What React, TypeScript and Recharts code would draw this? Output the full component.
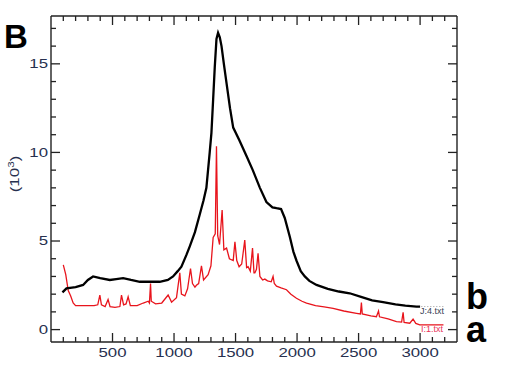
import React from 'react'
import { LineChart, Line, XAxis, YAxis, ReferenceLine } from 'recharts'

// spectrum b (black): [shift, intensity (10^3)]
const spectrumB: [number, number][] = [
    [93, 2.1], [126, 2.33], [200, 2.4], [261, 2.52], [300, 2.8], [342, 3.0], [400, 2.9],
    [478, 2.8], [530, 2.85], [586, 2.9], [650, 2.8], [722, 2.7], [800, 2.7], [884, 2.7],
    [950, 2.8], [992, 3.0], [1030, 3.3], [1060, 3.55], [1100, 4.2], [1128, 4.7], [1170, 5.5],
    [1209, 6.5], [1240, 7.3], [1263, 8.0], [1290, 10.0], [1304, 11.1], [1318, 13.0],
    [1331, 14.8], [1345, 16.4], [1358, 16.75], [1372, 16.5], [1386, 16.0], [1405, 15.0],
    [1427, 13.9], [1455, 12.5], [1481, 11.4], [1530, 10.7], [1589, 9.8], [1640, 9.0],
    [1698, 8.0], [1751, 7.2], [1800, 6.9], [1833, 6.85], [1870, 6.8], [1900, 6.3],
    [1941, 5.24], [1970, 4.4], [1995, 3.9], [2030, 3.3], [2063, 3.0], [2100, 2.75],
    [2158, 2.52], [2250, 2.3], [2340, 2.15], [2428, 2.05], [2520, 1.85], [2610, 1.65],
    [2699, 1.55], [2800, 1.42], [2880, 1.35], [2970, 1.3], [3000, 1.3],
]

// spectrum a (red)
const spectrumA: [number, number][] = [
    [100, 3.65], [120, 3.1], [140, 2.2], [160, 1.9], [180, 1.5], [200, 1.35], [250, 1.35],
    [300, 1.35], [350, 1.35], [380, 1.4], [397, 1.95], [410, 1.4], [440, 1.3], [464, 1.7],
    [480, 1.3], [520, 1.25], [560, 1.3], [573, 1.95], [590, 1.4], [610, 1.45], [627, 1.85],
    [645, 1.35], [700, 1.35], [750, 1.5], [790, 1.6], [800, 1.5], [809, 2.6], [815, 1.6],
    [850, 1.45], [900, 1.5], [952, 1.95], [980, 1.55], [1020, 1.8], [1047, 3.2], [1060, 2.0],
    [1088, 1.9], [1110, 2.3], [1134, 3.45], [1150, 2.6], [1170, 2.4], [1182, 2.5], [1200, 2.6],
    [1223, 3.6], [1240, 2.8], [1277, 3.1], [1300, 3.6], [1318, 5.2], [1335, 5.4],
    [1345, 10.35], [1355, 5.3], [1370, 4.8], [1391, 6.75], [1405, 4.5], [1427, 4.6],
    [1450, 4.0], [1481, 3.9], [1495, 4.96], [1510, 3.9], [1529, 3.55], [1550, 3.7],
    [1575, 5.05], [1590, 3.5], [1602, 3.55], [1620, 3.3], [1638, 4.6], [1650, 3.2],
    [1657, 3.2], [1670, 3.4], [1683, 4.3], [1698, 3.0], [1720, 2.8], [1738, 2.85],
    [1760, 2.75], [1790, 2.7], [1805, 3.0], [1815, 2.6], [1833, 2.45], [1870, 2.35],
    [1914, 2.25], [1950, 2.0], [1995, 1.77], [2040, 1.6], [2077, 1.5], [2150, 1.35],
    [2220, 1.28], [2293, 1.2], [2380, 1.05], [2483, 0.92], [2515, 0.88], [2523, 1.52],
    [2530, 0.88], [2600, 0.78], [2645, 0.73], [2662, 1.05], [2670, 0.72], [2740, 0.6],
    [2808, 0.45], [2850, 0.42], [2862, 0.98], [2870, 0.4], [2916, 0.36], [2943, 0.59],
    [2965, 0.35], [2997, 0.27], [3100, 0.27], [3190, 0.27],
]

// faint dotted stub next to the J:4 label
const legendStub: [number, number][] = [[3010, 1.3], [3190, 1.3]]

const X_DOMAIN = [0, 3300]
const Y_DOMAIN = [-0.7, 17.7]
const xTicks = Array.from({ length: 32 }, (_, i) => (i + 1) * 100)
const yTicks = Array.from({ length: 18 }, (_, i) => i)

const toRows = (pts: [number, number][]) => pts.map(([x, y]) => ({ x, y }))

const W = 508
const H = 376
const M = { top: 16, right: 51, bottom: 0, left: 0 }
const Y_AXIS_W = 51
const X_AXIS_H = 34
const PLOT_W = W - M.left - M.right - Y_AXIS_W
const PLOT_H = H - M.top - M.bottom - X_AXIS_H

const FONT = "Arial, 'Liberation Sans', sans-serif"
const LABEL_COLOR = '#27304f'
const AXIS = '#222'

// inward tick lengths (px) turned into data units so they can go through the scales
const pxX = (X_DOMAIN[1] - X_DOMAIN[0]) / PLOT_W
const pxY = (Y_DOMAIN[1] - Y_DOMAIN[0]) / PLOT_H
const tickLenX = (v: number) => (v % 5 === 0 ? 9 : 5) * pxX
const tickLenY = (v: number) => (v % 500 === 0 ? 9 : 5) * pxY

const LeftTick = (props: any) => {
    const { x, y, payload } = props
    if (payload.value % 5 !== 0) return <g />
    return (
        <text transform={`translate(${x},${y}) scale(1.4,1)`} textAnchor="end" dominantBaseline="central"
            fontSize={12} fontFamily={FONT} fill={LABEL_COLOR}>{payload.value}</text>
    )
}

const BottomTick = (props: any) => {
    const { x, y, payload } = props
    if (payload.value % 500 !== 0 || payload.value > 3000) return <g />
    return (
        <text transform={`translate(${x},${y}) scale(1.4,1)`} textAnchor="middle" dominantBaseline="central"
            fontSize={12} fontFamily={FONT} fill={LABEL_COLOR}>{payload.value}</text>
    )
}

export default function App() {
    return (
        <div style={{ position: 'absolute', left: 0, top: 0, width: W, height: H, background: '#fff' }}>
            <LineChart width={W} height={H} margin={M}>
                <XAxis dataKey="x" type="number" domain={X_DOMAIN} ticks={xTicks} interval={0}
                    height={X_AXIS_H} tickSize={0} tickMargin={11} tick={<BottomTick />}
                    tickLine={false} axisLine={{ stroke: AXIS, strokeWidth: 1.4 }} allowDataOverflow />
                <YAxis type="number" domain={Y_DOMAIN} ticks={yTicks} interval={0} width={Y_AXIS_W}
                    tickSize={0} tickMargin={3} tick={<LeftTick />} tickLine={false}
                    axisLine={{ stroke: AXIS, strokeWidth: 1.4 }} allowDataOverflow />
                <ReferenceLine y={Y_DOMAIN[1]} stroke={AXIS} strokeWidth={1.4} />
                <ReferenceLine x={X_DOMAIN[1]} stroke={AXIS} strokeWidth={1.4} />
                {yTicks.map(v => (
                    <ReferenceLine key={`l${v}`} stroke={AXIS} strokeWidth={1.3}
                        segment={[{ x: X_DOMAIN[0], y: v }, { x: X_DOMAIN[0] + tickLenX(v), y: v }]} />
                ))}
                {yTicks.map(v => (
                    <ReferenceLine key={`r${v}`} stroke={AXIS} strokeWidth={1.3}
                        segment={[{ x: X_DOMAIN[1] - tickLenX(v), y: v }, { x: X_DOMAIN[1], y: v }]} />
                ))}
                {xTicks.map(v => (
                    <ReferenceLine key={`b${v}`} stroke={AXIS} strokeWidth={1.3}
                        segment={[{ x: v, y: Y_DOMAIN[0] }, { x: v, y: Y_DOMAIN[0] + tickLenY(v) }]} />
                ))}
                {xTicks.map(v => (
                    <ReferenceLine key={`t${v}`} stroke={AXIS} strokeWidth={1.3}
                        segment={[{ x: v, y: Y_DOMAIN[1] - tickLenY(v) }, { x: v, y: Y_DOMAIN[1] }]} />
                ))}
                <Line data={toRows(legendStub)} dataKey="y" stroke="#999" strokeWidth={1}
                    strokeDasharray="1 2" dot={false} isAnimationActive={false} />
                <Line data={toRows(spectrumA)} dataKey="y" stroke="#e8141c" strokeWidth={1.3}
                    dot={false} isAnimationActive={false} />
                <Line data={toRows(spectrumB)} dataKey="y" stroke="#000" strokeWidth={2.3}
                    dot={false} isAnimationActive={false} />
            </LineChart>
            <div style={{ position: 'absolute', left: 4, top: 20, fontFamily: FONT, fontWeight: 'bold', fontSize: 33, lineHeight: 1 }}>B</div>
            <div style={{ position: 'absolute', left: 466, top: 279, fontFamily: FONT, fontWeight: 'bold', fontSize: 36, lineHeight: 1 }}>b</div>
            <div style={{ position: 'absolute', left: 466, top: 312, fontFamily: FONT, fontWeight: 'bold', fontSize: 36, lineHeight: 1 }}>a</div>
            <div style={{ position: 'absolute', left: 420, top: 307, fontFamily: FONT, fontSize: 9, color: '#3a3f55', lineHeight: 1 }}>J:4.txt</div>
            <div style={{ position: 'absolute', left: 421, top: 325, fontFamily: FONT, fontSize: 9, color: '#e8345a', lineHeight: 1 }}>I:1.txt</div>
            <div style={{
                position: 'absolute', left: 14, top: 174, transform: 'translate(-50%,-50%) rotate(-90deg) scaleX(1.3)',
                fontFamily: FONT, fontSize: 13, color: LABEL_COLOR, whiteSpace: 'nowrap', lineHeight: 1,
            }}>(10<sup style={{ fontSize: 9 }}>3</sup>)</div>
        </div>
    )
}
